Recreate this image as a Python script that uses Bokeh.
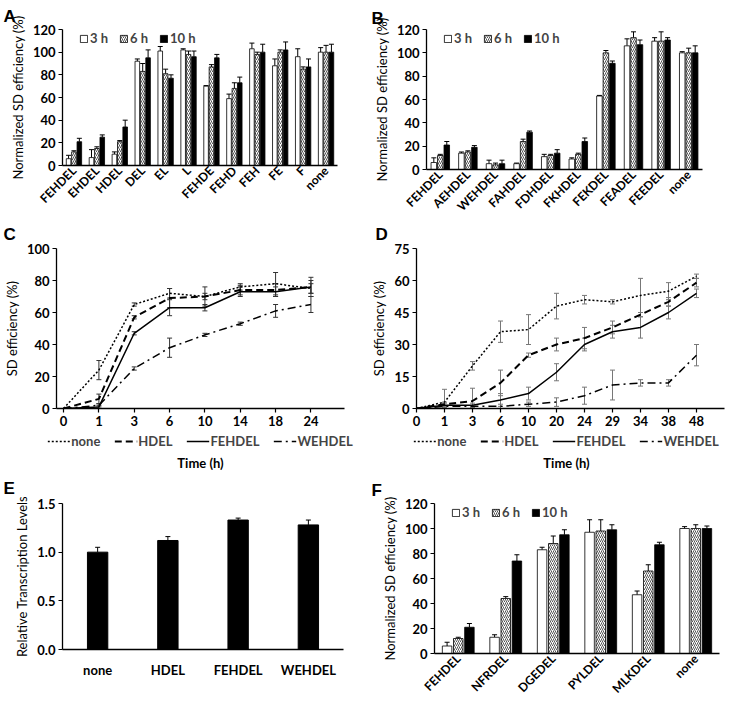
from bokeh.plotting import figure
from bokeh.models import (Range1d, FixedTicker, Whisker, TeeHead, ColumnDataSource,
                          Legend, LegendItem, Title)
from bokeh.layouts import row
from bokeh.embed import file_html
from bokeh.resources import INLINE
import math

FONT = "Lato"
LFONT = "Liberation Sans"

# ---------------- Data ----------------
a_cats = ["FEHDEL", "EHDEL", "HDEL", "DEL", "EL", "L", "FEHDE", "FEHD", "FEH", "FE", "F", "none"]
a_3h = [6, 7, 10, 92, 101, 102, 70, 59, 103, 88, 96, 100]
a_3h_err = [3, 7, 2, 2, 4, 1, 0.5, 4, 5, 6, 7, 4]
a_6h = [12, 15, 21, 83, 81, 98, 87, 68, 98, 100, 85, 100]
a_6h_err = [1, 1.5, 1, 7, 4, 3, 2, 5, 2, 2, 2, 6]
a_10h = [21, 25, 34, 95, 77, 96, 95, 73, 100, 102, 87, 100]
a_10h_err = [3, 2, 6, 7, 3, 5, 3, 5, 7, 7, 7, 7]

b_cats = ["FEHDEL", "AEHDEL", "WEHDEL", "FAHDEL", "FDHDEL", "FKHDEL", "FEKDEL", "FEADEL", "FEEDEL", "none"]
b_3h = [6, 14, 5, 5, 11, 9, 63, 106, 110, 100]
b_3h_err = [4, 1, 3, 0.5, 2, 1, 0.5, 6, 3, 1]
b_6h = [12, 15, 4, 24, 12, 13, 100, 113, 110, 100]
b_6h_err = [1, 1, 1.5, 2, 1, 1, 2, 5, 8, 4]
b_10h = [21, 19, 5, 32, 14, 24, 91, 107, 111, 100]
b_10h_err = [3, 1.5, 3, 1, 3, 3, 2, 4, 2, 6]

c_times = ["0", "1", "3", "6", "10", "14", "18", "24"]
c_none = [0, 24, 65, 72, 70, 76, 78, 75]
c_none_err = [0, 6, 1, 3, 2, 2, 7, 3]
c_hdel = [0, 6, 57, 69, 70, 74, 74, 76]
c_hdel_err = [0, 3, 1, 6, 6, 3, 4, 4]
c_fehdel = [0, 1, 47, 63, 63, 73, 73, 76]
c_fehdel_err = [0, 1, 1, 5, 2, 3, 3, 6]
c_wehdel = [0, 2, 25, 38, 46, 53, 61, 65]
c_wehdel_err = [0, 1, 1, 6, 1, 1, 4, 5]

d_times = ["0", "1", "3", "6", "10", "20", "24", "29", "34", "38", "48"]
d_none = [0, 3, 20, 36, 37, 48, 51, 50, 53, 55, 62]
d_none_err = [0, 6, 2, 5, 7, 6, 2, 1, 8, 4, 1]
d_hdel = [0, 2, 3.5, 12, 25, 30, 33, 38, 44, 50, 59]
d_hdel_err = [0, 1, 6, 6, 1, 3, 5, 3, 1, 2, 2]
d_fehdel = [0, 1.5, 1.5, 4, 7, 17, 30, 36, 38, 45, 54]
d_fehdel_err = [0, 1, 1, 3, 3, 4, 3, 3, 5, 3, 2]
d_wehdel = [0, 1, 1, 1, 2, 3, 6, 11, 12, 12, 25]
d_wehdel_err = [0, 0, 0, 1, 1, 2, 4, 7, 1.5, 1.5, 5]

e_cats = ["none", "HDEL", "FEHDEL", "WEHDEL"]
e_vals = [1.0, 1.12, 1.33, 1.28]
e_err = [0.05, 0.04, 0.02, 0.05]

f_cats = ["FEHDEL", "NFRDEL", "DGEDEL", "PYLDEL", "MLKDEL", "none"]
f_3h = [6, 13, 83, 97, 47, 100]
f_3h_err = [3, 2, 2, 10, 3, 1.5]
f_6h = [12, 44, 88, 98, 66, 100]
f_6h_err = [1, 1.5, 6, 9, 5, 3]
f_10h = [21, 74, 95, 99, 87, 100]
f_10h_err = [3, 5, 4, 4, 2, 2]

line_names = ["none", "HDEL", "FEHDEL", "WEHDEL"]
line_dashes = ["2 2", "7 4", "solid", "8 4 2 4"]
line_widths = [1.5, 2, 1.5, 1.5]


def base_fig(fw, fh, l, r, so, b, xr, yr, let):
    p = figure(frame_width=fw, frame_height=fh, x_range=xr, y_range=yr, output_backend="svg",
               toolbar_location=None, min_border_left=l, min_border_right=r,
               min_border_top=0, min_border_bottom=b)
    p.outline_line_color = None
    p.xgrid.visible = False
    p.ygrid.visible = False
    p.background_fill_color = "white"
    p.border_fill_color = "white"
    for ax in (p.xaxis, p.yaxis):
        ax.axis_line_color = "black"
        ax.axis_line_width = 1.3
        ax.major_label_text_font = FONT
        ax.major_label_text_font_style = "bold"
        ax.major_label_text_font_size = "13px"
        ax.major_label_text_color = "black"
        ax.minor_tick_line_color = None
        ax.major_tick_line_color = "black"
        ax.major_tick_line_width = 1.2
        ax.major_tick_in = 0
        ax.major_tick_out = 4
        ax.axis_label_text_font = FONT
        ax.axis_label_text_font_size = "13px"
        ax.axis_label_text_color = "black"
    p.yaxis.axis_label_text_font_style = "normal"
    p.yaxis.axis_label_standoff = 4
    p.yaxis.major_label_standoff = 3
    p.title.text = let
    p.title.align = "left"
    p.title.offset = -(l - 3)
    p.title.text_font = LFONT
    p.title.text_font_style = "bold"
    p.title.text_font_size = "17px"
    p.title.text_color = "black"
    p.title.standoff = so
    return p


def bar_panel(cats, v3, e3, v6, e6, v10, e10, fw, fh, l, r, so, b, let):
    n = len(cats)
    p = base_fig(fw, fh, l, r, so, b, Range1d(-0.5, n - 0.5), Range1d(0, 120), let)
    p.yaxis.ticker = FixedTicker(ticks=[0, 20, 40, 60, 80, 100, 120])
    p.yaxis.axis_label = "Normalized SD efficiency (%)"
    p.xaxis.ticker = FixedTicker(ticks=list(range(n)))
    p.xaxis.major_label_overrides = {i: c for i, c in enumerate(cats)}
    p.xaxis.major_label_orientation = math.pi / 4
    p.xaxis.major_label_text_font_size = "12px"
    p.xaxis.major_tick_line_color = None
    p.xaxis.major_tick_out = 0
    p.xaxis.major_label_standoff = 3
    bw = 0.2
    off = 0.235
    xs = list(range(n))
    specs = [
        (v3, e3, -off, dict(fill_color="white"), "3 h"),
        (v6, e6, 0.0, dict(fill_color="white", hatch_pattern="right_diagonal_line",
                           hatch_color="#555555", hatch_scale=4.0, hatch_weight=1.0), "6 h"),
        (v10, e10, off, dict(fill_color="black"), "10 h"),
    ]
    for vals, errs, o, style, lab in specs:
        x = [xi + o for xi in xs]
        src = ColumnDataSource(dict(x=x, top=vals, lo=vals, hi=[v + e for v, e in zip(vals, errs)]))
        p.vbar(x="x", top="top", width=bw, source=src, line_color="black", line_width=0.8,
               legend_label=lab, **style)
        p.add_layout(Whisker(source=src, base="x", lower="lo", upper="hi", dimension="height",
                             line_color="black", line_width=1,
                             upper_head=TeeHead(size=5, line_color="black", line_width=1),
                             lower_head=None))
    lg = p.legend[0]
    lg.orientation = "horizontal"
    lg.location = (16, fh - 18)
    lg.background_fill_alpha = 0
    lg.border_line_alpha = 0
    lg.padding = 1
    lg.margin = 0
    lg.spacing = 9
    lg.glyph_width = 9
    lg.glyph_height = 9
    lg.label_standoff = 2
    lg.label_text_font = FONT
    lg.label_text_font_style = "bold"
    lg.label_text_font_size = "13px"
    lg.label_height = 14
    return p


def line_panel(times, series, errs, ymax, yticks, xr, fw, fh, l, r, so, b, let, errcolor):
    n = len(times)
    p = base_fig(fw, fh, l, r, so, b, xr, Range1d(0, ymax), let)
    p.yaxis.ticker = FixedTicker(ticks=yticks)
    p.yaxis.axis_label = "SD efficiency (%)"
    p.xaxis.ticker = FixedTicker(ticks=list(range(n)))
    p.xaxis.major_label_overrides = {i: c for i, c in enumerate(times)}
    p.xaxis.major_label_standoff = 3
    xs = list(range(n))
    for name, vals, er, dash, lw in zip(line_names, series, errs, line_dashes, line_widths):
        p.line(xs, vals, line_color="black", line_width=lw, line_dash=dash)
        pts = [(x, v, e) for x, v, e in zip(xs, vals, er) if e > 0]
        src = ColumnDataSource(dict(x=[q[0] for q in pts], lo=[q[1] - q[2] for q in pts],
                                    hi=[q[1] + q[2] for q in pts]))
        p.add_layout(Whisker(source=src, base="x", lower="lo", upper="hi", dimension="height",
                             line_color=errcolor, line_width=1,
                             upper_head=TeeHead(size=5, line_color=errcolor, line_width=1),
                             lower_head=TeeHead(size=5, line_color=errcolor, line_width=1)))
    return p


def legend_fig(fw, l, r):
    # range far from the sample lines so only the legend samples are visible
    p = figure(frame_width=fw, frame_height=22, x_range=Range1d(0, 1), y_range=Range1d(0, 1),
               x_axis_type=None, y_axis_type=None, output_backend="svg", toolbar_location=None,
               min_border_left=l, min_border_right=r, min_border_top=0, min_border_bottom=0)
    p.outline_line_color = None
    p.background_fill_color = "white"
    p.border_fill_color = "white"
    items = []
    for name, dash, lw in zip(line_names, line_dashes, line_widths):
        rr = p.line(x=[5, 6], y=[5, 6], line_color="black", line_width=lw, line_dash=dash)
        items.append(LegendItem(label=name, renderers=[rr]))
    lg = Legend(items=items, orientation="horizontal", location="center")
    lg.background_fill_alpha = 0
    lg.border_line_alpha = 0
    lg.padding = 0
    lg.margin = 0
    lg.spacing = 14
    lg.glyph_width = 23
    lg.glyph_height = 12
    lg.label_standoff = 1
    lg.label_text_font = FONT
    lg.label_text_font_style = "bold"
    lg.label_text_font_size = "13px"
    lg.label_height = 14
    p.add_layout(lg)
    p.add_layout(Title(text="Time (h)", align="center", text_font=FONT, text_font_style="bold",
                       text_font_size="13px", text_color="black", standoff=0), "below")
    return p


# ---------------- Panels ----------------
pA = bar_panel(a_cats, a_3h, a_3h_err, a_6h, a_6h_err, a_10h, a_10h_err,
               275, 136, 62, 31, 8, 40, "A")
pB = bar_panel(b_cats, b_3h, b_3h_err, b_6h, b_6h_err, b_10h, b_10h_err,
               276, 140, 58, 27, 4, 40, "B")

pC = line_panel(c_times, [c_none, c_hdel, c_fehdel, c_wehdel],
                [c_none_err, c_hdel_err, c_fehdel_err, c_wehdel_err],
                100, [0, 20, 40, 60, 80, 100], Range1d(-0.2, 7.95),
                288, 160, 56, 24, 9, 22, "C", "#333333")
pD = line_panel(d_times, [d_none, d_hdel, d_fehdel, d_wehdel],
                [d_none_err, d_hdel_err, d_fehdel_err, d_wehdel_err],
                75, [0, 15, 30, 45, 60, 75], Range1d(0, 11),
                308, 160, 44, 9, 9, 22, "D", "#777777")
pCl = legend_fig(336, 32, 0)
pDl = legend_fig(326, 35, 0)

# Panel E
pE = base_fig(281, 146, 62, 25, 12, 40, Range1d(-0.5, 3.5), Range1d(0, 1.5), "E")
pE.yaxis.ticker = FixedTicker(ticks=[0, 0.5, 1.0, 1.5])
pE.yaxis.major_label_overrides = {0: "0.0", 0.5: "0.5", 1: "1.0", 1.5: "1.5"}
pE.yaxis.axis_label = "Relative Transcription Levels"
pE.xaxis.ticker = FixedTicker(ticks=[0, 1, 2, 3])
pE.xaxis.major_label_overrides = {i: c for i, c in enumerate(e_cats)}
pE.xaxis.major_tick_line_color = None
pE.xaxis.major_label_standoff = 8
e_src = ColumnDataSource(dict(x=list(range(4)), top=e_vals, lo=e_vals,
                              hi=[v + e for v, e in zip(e_vals, e_err)]))
pE.vbar(x="x", top="top", width=0.29, source=e_src, fill_color="black", line_color="black")
pE.add_layout(Whisker(source=e_src, base="x", lower="lo", upper="hi", dimension="height",
                      line_color="black", line_width=1,
                      upper_head=TeeHead(size=5, line_color="black", line_width=1), lower_head=None))

pF = bar_panel(f_cats, f_3h, f_3h_err, f_6h, f_6h_err, f_10h, f_10h_err,
               285, 150, 66, 10, 8, 40, "F")

roots = [row(pA, pB), row(pC, pD), row(pCl, pDl), row(pE, pF)]
open("out.html", "w").write(file_html(roots, INLINE))
